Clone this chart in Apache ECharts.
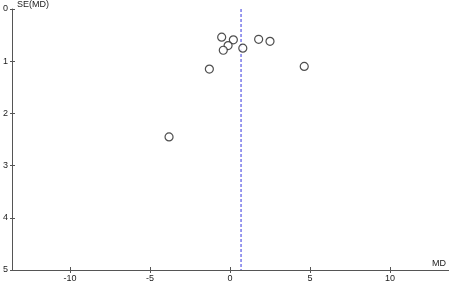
<!DOCTYPE html>
<html><head><meta charset="utf-8">
<script src="https://cdn.jsdelivr.net/npm/echarts@6/dist/echarts.min.js"></script>
<style>html,body{margin:0;padding:0;background:#fff}#c{width:449px;height:284px}</style>
</head><body><div id="c"></div>
<script>
var md = [-0.52, 0.21, -0.12, -0.42, 0.80, 1.79, 2.50, -1.29, 4.64, -3.81];
var se = [0.54, 0.59, 0.70, 0.79, 0.75, 0.58, 0.62, 1.15, 1.10, 2.45];
var pooledMD = 0.69;
var xTicks = [-10, -5, 0, 5, 10];
var yTicks = [0, 1, 2, 3, 4, 5];
var xName = 'MD', yName = 'SE(MD)';

var pts = md.map(function(v, i){ return [v, se[i]]; });
var axisCol = '#555';
var font = 'Liberation Sans, Arial, sans-serif';
var chart = echarts.init(document.getElementById('c'));
chart.setOption({
  animation: false,
  grid: {left: 12, top: 9, right: 0, bottom: 14, containLabel: false},
  xAxis: [{
    type: 'value', min: -13.625, max: 13.6875, position: 'bottom',
    axisLine: {onZero: false, lineStyle: {color: axisCol, width: 1}},
    axisTick: {show: true, length: 3, customValues: xTicks, lineStyle: {color: axisCol}},
    axisLabel: {customValues: xTicks, color: '#222', fontSize: 9, fontFamily: font, margin: 4},
    splitLine: {show: false}
  }, {
    type: 'value', min: -13.625, max: 13.6875, position: 'bottom', gridIndex: 0,
    axisLine: {show: false, onZero: false},
    axisTick: {show: true, inside: true, length: 3, customValues: xTicks, lineStyle: {color: axisCol}},
    axisLabel: {show: false}, splitLine: {show: false}
  }],
  yAxis: [{
    type: 'value', inverse: true, min: 0, max: 5,
    axisLine: {show: true, onZero: false, lineStyle: {color: axisCol, width: 1}},
    axisTick: {show: true, length: 2, customValues: yTicks, lineStyle: {color: axisCol}},
    axisLabel: {customValues: yTicks, color: '#222', fontSize: 9, fontFamily: font, margin: 4},
    splitLine: {show: false}
  }, {
    type: 'value', inverse: true, min: 0, max: 5, position: 'left',
    axisLine: {show: false, onZero: false},
    axisTick: {show: true, inside: true, length: 3, customValues: yTicks, lineStyle: {color: axisCol}},
    axisLabel: {show: false}, splitLine: {show: false}
  }],
  graphic: [
    {type: 'text', left: 17, top: 0, style: {text: yName, fill: '#222', fontSize: 9, fontFamily: font}},
    {type: 'text', right: 3, top: 259, style: {text: xName, fill: '#222', fontSize: 9, fontFamily: font}}
  ],
  series: [{
    type: 'line', data: [[pooledMD, 0], [pooledMD, 5]], symbol: 'none',
    lineStyle: {color: '#3535dd', type: [3, 2], width: 1}, silent: true, z: 2
  }, {
    type: 'scatter', data: pts, symbol: 'circle', symbolSize: 8,
    itemStyle: {color: '#fff', borderColor: '#222', borderWidth: 1.2},
    z: 3
  }]
});
</script></body></html>
